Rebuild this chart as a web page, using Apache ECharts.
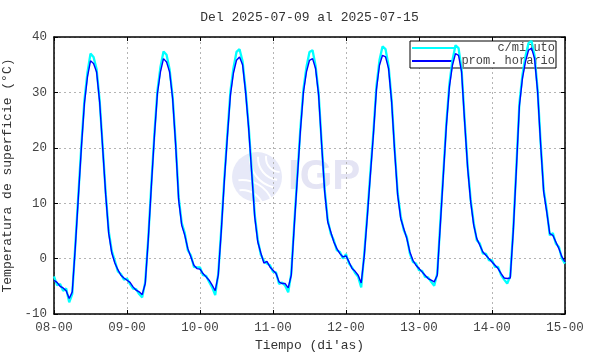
<!DOCTYPE html>
<html>
<head>
<meta charset="utf-8">
<script src="https://cdn.jsdelivr.net/npm/echarts@6/dist/echarts.min.js"></script>
<style>html,body{margin:0;padding:0;background:#fff}#c{width:590px;height:354px}</style>
</head>
<body>
<div id="c"></div>
<script>
// ---- data ----
const dayLabels = ['08-00','09-00','10-00','11-00','12-00','13-00','14-00','15-00'];
const titleText = 'Del 2025-07-09 al 2025-07-15';
const yTicks = [-10, 0, 10, 20, 30, 40];

// hourly averages (prom. horario), 24 values per day
const hourly08 = [-3.9,-4.3,-5.0,-5.3,-5.8,-7.2,-6.0,2.0,11.0,20.0,28.0,32.8,35.7,35.2,33.7,28.3,20.0,11.5,4.5,1.0,-0.8,-2.0,-3.0,-3.5];
const hourly09 = [-3.9,-4.3,-5.1,-5.7,-6.0,-6.5,-4.5,3.5,13.0,22.0,29.8,33.7,36.1,35.5,33.7,28.9,20.5,10.5,6.0,4.2,1.8,0.3,-1.2,-1.8];
const hourly10 = [-1.9,-2.7,-3.3,-3.9,-4.8,-5.8,-3.0,5.0,14.0,22.0,29.5,33.5,35.8,36.4,35.0,30.0,23.5,15.5,7.5,3.0,1.0,-0.8,-0.5,-1.5];
const hourly11 = [-2.1,-2.7,-4.2,-4.5,-4.5,-5.3,-3.0,6.0,14.5,23.0,30.0,33.7,35.8,36.1,34.3,29.5,20.5,12.0,6.6,4.8,3.0,1.8,0.9,0.3];
const hourly12 = [0.5,-0.6,-1.8,-2.3,-3.0,-4.4,0.5,7.5,15.0,22.3,30.5,34.9,36.7,36.4,34.3,28.3,19.3,11.4,7.2,5.4,3.6,1.2,-0.3,-1.2];
const hourly13 = [-1.8,-2.4,-3.0,-3.6,-3.9,-4.2,-3.0,6.0,15.0,24.0,31.0,34.9,37.0,36.7,33.7,24.7,16.3,10.2,6.0,3.6,2.4,1.2,0.6,0.0];
const hourly14 = [-0.6,-1.2,-1.8,-2.7,-3.5,-3.6,-3.5,5.0,16.0,27.5,32.5,35.5,37.6,38.0,36.1,30.1,20.5,12.0,8.4,4.5,4.2,3.0,1.8,0.3];
const hourlyEnd = -0.6;

// per-minute readings (c/minuto), estimated envelope, sampled hourly
const minute08 = [-3.2,-4.8,-4.6,-5.8,-5.4,-7.9,-6.4,2.4,11.5,20.5,28.6,33.6,37.0,36.4,34.2,28.6,20.3,11.8,4.9,1.4,-0.4,-2.3,-2.8,-3.8];
const minute09 = [-3.6,-4.6,-5.4,-5.5,-6.4,-7.0,-4.2,3.8,13.4,22.5,30.3,34.6,37.4,36.8,34.2,29.3,20.9,11.0,6.4,4.6,1.5,0.6,-1.5,-1.6];
const minute10 = [-1.6,-3.0,-3.1,-4.2,-5.2,-6.6,-2.7,5.4,14.5,22.5,30.2,34.4,37.3,37.8,35.6,30.4,23.9,15.9,7.9,3.4,0.7,-0.4,-0.9,-1.2];
const minute11 = [-2.4,-2.5,-4.6,-4.3,-4.9,-6.1,-2.7,6.4,15.0,23.5,30.6,34.6,37.3,37.6,34.8,29.9,20.9,12.4,7.0,4.5,3.3,1.5,1.2,0.0];
const minute12 = [0.8,-0.9,-1.6,-2.6,-3.3,-5.2,0.9,8.0,15.5,22.8,31.1,35.8,38.3,37.8,34.8,28.7,19.7,11.8,7.6,5.1,3.9,0.9,-0.6,-0.9];
const minute13 = [-2.1,-2.2,-3.3,-3.4,-4.2,-4.9,-2.7,6.5,15.5,24.5,31.6,35.8,38.5,38.0,34.2,25.1,16.7,10.6,6.4,3.3,2.7,0.9,0.9,-0.3];
const minute14 = [-0.3,-1.5,-1.5,-3.0,-3.8,-4.5,-3.2,5.4,16.5,28.0,33.1,36.5,38.9,39.3,36.6,30.5,20.9,12.4,8.8,4.2,4.6,2.7,2.1,0.0];
const minuteEnd = -0.9;

const seriesNames = ['c/minuto', 'prom. horario'];

// ---- build ----
function toPairs(days, endVal) {
  const out = [];
  days.forEach((arr, d) => arr.forEach((v, h) => out.push([d * 24 + h, v])));
  out.push([days.length * 24, endVal]);
  return out;
}
const hourlyData = toPairs([hourly08, hourly09, hourly10, hourly11, hourly12, hourly13, hourly14], hourlyEnd);
const minuteData = toPairs([minute08, minute09, minute10, minute11, minute12, minute13, minute14], minuteEnd);

const FONT = 'Liberation Mono';
const G = {left: 54, right: 25, top: 37, bottom: 40};
const plotCenter = G.left + (590 - G.left - G.right) / 2;
const chart = echarts.init(document.getElementById('c'), null, {renderer: 'canvas'});
const gridLine = {show: true, lineStyle: {color: '#b4b4b4', type: [2, 3], width: 1}};
const axLine = {show: true, onZero: false, lineStyle: {color: '#000', width: 1.5}};
const tick = {show: true, inside: true, length: 4, lineStyle: {color: '#000'}};

chart.setOption({
  animation: false,
  backgroundColor: '#fff',
  grid: Object.assign({containLabel: false, outerBoundsMode: 'none'}, G),
  xAxis: [{
    type: 'value', min: 0, max: 168, interval: 24, position: 'bottom',
    name: "Tiempo (di'as)", nameLocation: 'middle', nameGap: 25,
    nameTextStyle: {fontFamily: FONT, fontSize: 13, color: '#333'},
    axisLine: axLine, axisTick: tick,
    axisLabel: {fontFamily: FONT, fontSize: 12.5, color: '#444', margin: 7,
      formatter: v => dayLabels[Math.round(v / 24)]},
    splitLine: gridLine
  }, {
    type: 'value', min: 0, max: 168, interval: 24, position: 'top',
    axisLine: axLine, axisTick: tick,
    axisLabel: {show: false}, splitLine: {show: false}
  }],
  yAxis: [{
    type: 'value', min: yTicks[0], max: yTicks[yTicks.length - 1], interval: 10,
    name: 'Temperatura de superficie (°C)', nameLocation: 'middle', nameGap: 32,
    nameTextStyle: {fontFamily: FONT, fontSize: 13, color: '#333'},
    axisLine: axLine, axisTick: tick,
    axisLabel: {fontFamily: FONT, fontSize: 12.5, color: '#444', margin: 7},
    splitLine: gridLine
  }, {
    type: 'value', min: yTicks[0], max: yTicks[yTicks.length - 1], interval: 10, position: 'right',
    axisLine: axLine, axisTick: tick,
    axisLabel: {show: false}, splitLine: {show: false}
  }],
  legend: {
    orient: 'vertical', left: 410, top: 41, z: 1,
    padding: [1, 1, 1, 2], itemGap: 1,
    backgroundColor: '#fff', borderColor: '#000', borderWidth: 1,
    itemWidth: 42, itemHeight: 2,
    icon: 'rect',
    data: seriesNames,
    formatter: n => '{a|' + n + '}',
    textStyle: {fontFamily: FONT, fontSize: 12, color: '#444',
      rich: {a: {width: 96, align: 'right', fontFamily: FONT, fontSize: 12, color: '#444', lineHeight: 12}}}
  },
  graphic: [
    {type: 'text', x: plotCenter, y: 18, silent: true,
      style: {text: titleText, fontFamily: FONT, fontSize: 13, fill: '#333', align: 'center', verticalAlign: 'middle'}},
    {type: 'group', x: 232, y: 152, z: 1, silent: true, children: [
      {type: 'circle', shape: {cx: 25, cy: 25, r: 25}, style: {fill: '#e7e9f8'}},
      {type: 'arc', shape: {cx: 48, cy: 6, r: 14, startAngle: 1.6, endAngle: 3.3}, style: {stroke: '#fff', lineWidth: 2, fill: null}},
      {type: 'arc', shape: {cx: 48, cy: 6, r: 22, startAngle: 1.7, endAngle: 3.2}, style: {stroke: '#fff', lineWidth: 2, fill: null}},
      {type: 'arc', shape: {cx: 48, cy: 6, r: 30, startAngle: 1.8, endAngle: 3.2}, style: {stroke: '#fff', lineWidth: 2, fill: null}},
      {type: 'arc', shape: {cx: 10, cy: 60, r: 22, startAngle: 4.6, endAngle: 6.0}, style: {stroke: '#fff', lineWidth: 2, fill: null}},
      {type: 'arc', shape: {cx: 10, cy: 60, r: 32, startAngle: 4.6, endAngle: 5.9}, style: {stroke: '#fff', lineWidth: 2, fill: null}},
      {type: 'text', x: 56, y: 25, style: {text: 'IGP', fontFamily: 'Liberation Sans', fontWeight: 'bold', fontSize: 42, fill: '#e4e4f4', verticalAlign: 'middle'}}
    ]}
  ],
  series: [{
    name: seriesNames[0], type: 'line', xAxisIndex: 0, yAxisIndex: 0,
    data: minuteData, symbol: 'none', z: 3,
    lineStyle: {color: '#00ffff', width: 2.3}, itemStyle: {color: '#00ffff'}
  }, {
    name: seriesNames[1], type: 'line', xAxisIndex: 0, yAxisIndex: 0,
    data: hourlyData, symbol: 'none', z: 4,
    lineStyle: {color: '#0000ff', width: 1.4}, itemStyle: {color: '#0000ff'}
  }]
});
</script>
</body>
</html>
